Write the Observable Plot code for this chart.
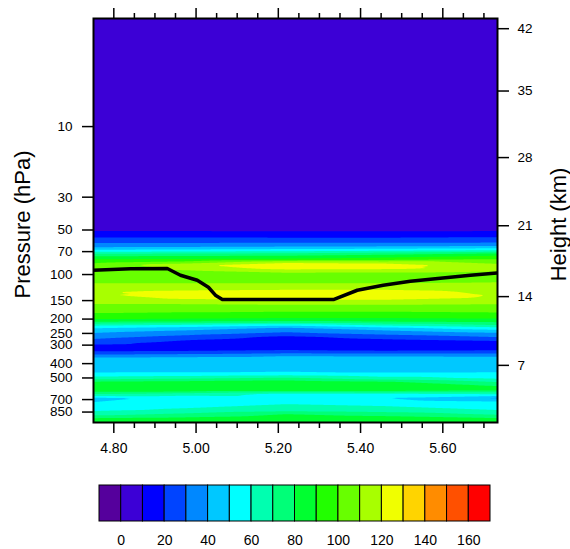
<!DOCTYPE html>
<html><head><meta charset="utf-8">
<script src="https://cdn.jsdelivr.net/npm/d3@7"></script>
<script src="https://cdn.jsdelivr.net/npm/@observablehq/plot@0.6"></script>
<style>
body{margin:0;background:#fff;}
svg{display:block;font-family:"Liberation Sans",Arial,Helvetica,sans-serif;}
</style>
</head><body><div id="chart"></div>
<script>
// ---- data ----
const xColumns = [4.75, 4.98, 5.22, 5.46, 5.74];
const pressureLevels = [1.5,
  49.5, 51.8, 54.3, 56.9, 59.6, 62.4, 65.4, 68.5, 71.8, 75.2,
  78.8, 82.6, 86.5, 90.6, 95.0, 99.5, 104.3, 109.2, 114.5, 119.9,
  125.7, 131.7, 138.0, 144.6, 151.5, 158.7, 166.3, 174.2, 182.5, 191.2,
  200.4, 209.9, 219.9, 230.5, 241.5, 253.0, 265.1, 277.7, 291.0, 304.9,
  319.4, 334.7, 350.6, 367.4,
  391.1, 416.1, 442.9, 471.3, 501.5, 533.6, 567.9, 604.3, 643.1, 684.4, 728.3, 775.1, 824.6, 877.6, 934.0, 1000];
const colA = [5,
  6,13,17,21,27,32,40,52,68,80, 90,98,103,105,105,106,106,107,110,113,
  116,119,118,115,112,110,106,103,100,95, 90,78,62,50,43,38,33,28,23,16,
  15,22,32,42, 45,46,47,52,65,82,86,86,70,48,50,55,58,66,80,90];
const colB = [5,
  6,13,17,21,27,32,41,53,69,81, 91,104,118,114,108,105,105,106,110,114,
  118,123,126,122,114,110,106,102,99,94, 89,77,58,45,38,32,26,20,16,15,
  16,23,34,43, 45,46,47,53,68,84,87,87,65,52,54,58,62,72,82,89];
const colC = [5,
  6,12,16,21,27,33,42,55,70,82, 92,118,126,124,114,106,104,105,110,116,
  119,124,127,124,116,111,106,102,98,93, 88,75,52,38,32,26,17,14,14,15,
  18,25,38,44, 46,46,47,55,72,86,88,86,57,55,58,62,66,80,86,88];
const colD = [5,
  6,12,16,21,27,33,43,57,74,86, 95,116,125,123,113,106,104,106,110,115,
  119,124,127,124,116,111,106,102,98,93, 88,78,62,46,38,31,24,18,14,14,
  16,24,37,44, 46,46,47,52,64,82,86,86,58,50,56,60,64,76,84,88];
const colE = [5,
  6,13,17,22,27,34,45,60,80,92, 100,106,113,115,110,106,105,108,111,113,
  116,118,119,118,115,110,106,103,99,94, 89,80,70,56,45,36,30,22,15,14,
  17,25,36,44, 46,47,48,52,58,70,80,82,60,38,52,56,60,68,80,88];

const tropoX = [4.75, 4.841, 4.930, 4.962, 5.003, 5.030, 5.047, 5.064, 5.334, 5.392, 5.455, 5.521, 5.594, 5.667, 5.733];
const tropoP = [93.5, 91.4, 91.1, 101.1, 109.3, 121.9, 137.9, 147.5, 147.5, 127.7, 118.3, 110.9, 105.9, 101.1, 97.5];

const thresholds = [0,10,20,30,40,50,60,70,80,90,100,110,120,130,140,150,160];
const palette = ["#55009c","#3c00d6","#0000ff","#0044ff","#0088ff","#00c8ff","#00ffff","#00ffb0",
  "#00ff78","#00ff30","#22ff00","#68ff00","#a8ff00","#f0ff00","#ffd400","#ff8c00","#ff5000","#ff0000"];
const colorbarLabels = [0,20,40,60,80,100,120,140,160];

const xMajorTicks = [4.8, 5.0, 5.2, 5.4, 5.6];
const xMinorTicks = [4.85,4.9,4.95,5.05,5.1,5.15,5.25,5.3,5.35,5.45,5.5,5.55,5.65,5.7];
const pressureTicks = [10,30,50,70,100,150,200,250,300,400,500,700,850];
const heightTicks = [42,35,28,21,14,7];
const heightTickPressures = [2.18,5.75,16.2,46.8,141,411];

// ---- build tables ----
const columns = [colA, colB, colC, colD, colE];
const grid = [];
xColumns.forEach((x, j) => pressureLevels.forEach((p, i) => grid.push({x, p, v: columns[j][i]})));
const tropo = tropoX.map((x, i) => ({x, p: tropoP[i]}));

const font = '"Liberation Sans",Arial,Helvetica,sans-serif';
const noText = () => "";

const main = Plot.plot({
  width: 570, height: 460,
  marginLeft: 93, marginRight: 73, marginTop: 18, marginBottom: 38,
  x: {domain: [4.7506, 5.733]},
  y: {type: "log", domain: [1000, 1.86]},
  color: {type: "threshold", domain: thresholds, range: palette},
  style: {fontFamily: font, fontSize: "14px", color: "black", background: "white", overflow: "visible"},
  marks: [
    Plot.contour(grid, {x: "x", y: "p", fill: "v", thresholds, interpolate: "barycentric", pixelSize: 1}),
    Plot.line(tropo, {x: "x", y: "p", stroke: "black", strokeWidth: 3.5, clip: true}),
    Plot.frame({stroke: "black", strokeWidth: 2}),
    Plot.axisX(xMajorTicks, {tickSize: 11, tickPadding: 10, strokeWidth: 1.5, tickFormat: d3.format(".2f"), label: null}),
    Plot.axisX(xMinorTicks, {tickSize: 6, strokeWidth: 1.5, tickFormat: noText, label: null}),
    Plot.axisX(xMajorTicks, {anchor: "top", tickSize: 11, strokeWidth: 1.5, tickFormat: noText, label: null}),
    Plot.axisX(xMinorTicks, {anchor: "top", tickSize: 6, strokeWidth: 1.5, tickFormat: noText, label: null}),
    Plot.axisY(pressureTicks, {anchor: "left", tickSize: 11, strokeWidth: 1.5, tickFormat: noText, label: null}),
    Plot.axisY(heightTickPressures, {anchor: "right", tickSize: 11, strokeWidth: 1.5, tickFormat: noText, label: null}),
    Plot.text(pressureTicks, {y: d => d, text: d => String(d), frameAnchor: "left", textAnchor: "end", dx: -21, fontSize: 13.5}),
    Plot.text(heightTickPressures, {y: d => d, text: (d, i) => String(heightTicks[i]), frameAnchor: "right", textAnchor: "start", dx: 20, fontSize: 13.5}),
    Plot.text(["Pressure (hPa)"], {text: d => d, frameAnchor: "left", textAnchor: "middle", rotate: -90, dx: -71, dy: 4, fontSize: 22}),
    Plot.text(["Height (km)"], {text: d => d, frameAnchor: "right", textAnchor: "middle", rotate: -90, dx: 61, dy: 4, fontSize: 22})
  ]
});

const lower = [-10, ...thresholds];
const upper = [...thresholds, 170];
const cb = Plot.plot({
  width: 570, height: 89,
  marginLeft: 99, marginRight: 80, marginTop: 25, marginBottom: 28,
  x: {domain: [-10, 170]},
  y: {domain: [0, 1], axis: null},
  color: {type: "identity"},
  style: {fontFamily: font, fontSize: "14px", color: "black", background: "white"},
  marks: [
    Plot.rect(palette, {x1: (d, i) => lower[i], x2: (d, i) => upper[i], y1: 0, y2: 1, fill: d => d, stroke: "black", strokeWidth: 1}),
    Plot.axisX(colorbarLabels, {tickSize: 0, tickPadding: 14, label: null, tickFormat: d => String(d)})
  ]
});

const el = document.getElementById("chart");
el.appendChild(main);
el.appendChild(cb);
</script>
</body></html>
